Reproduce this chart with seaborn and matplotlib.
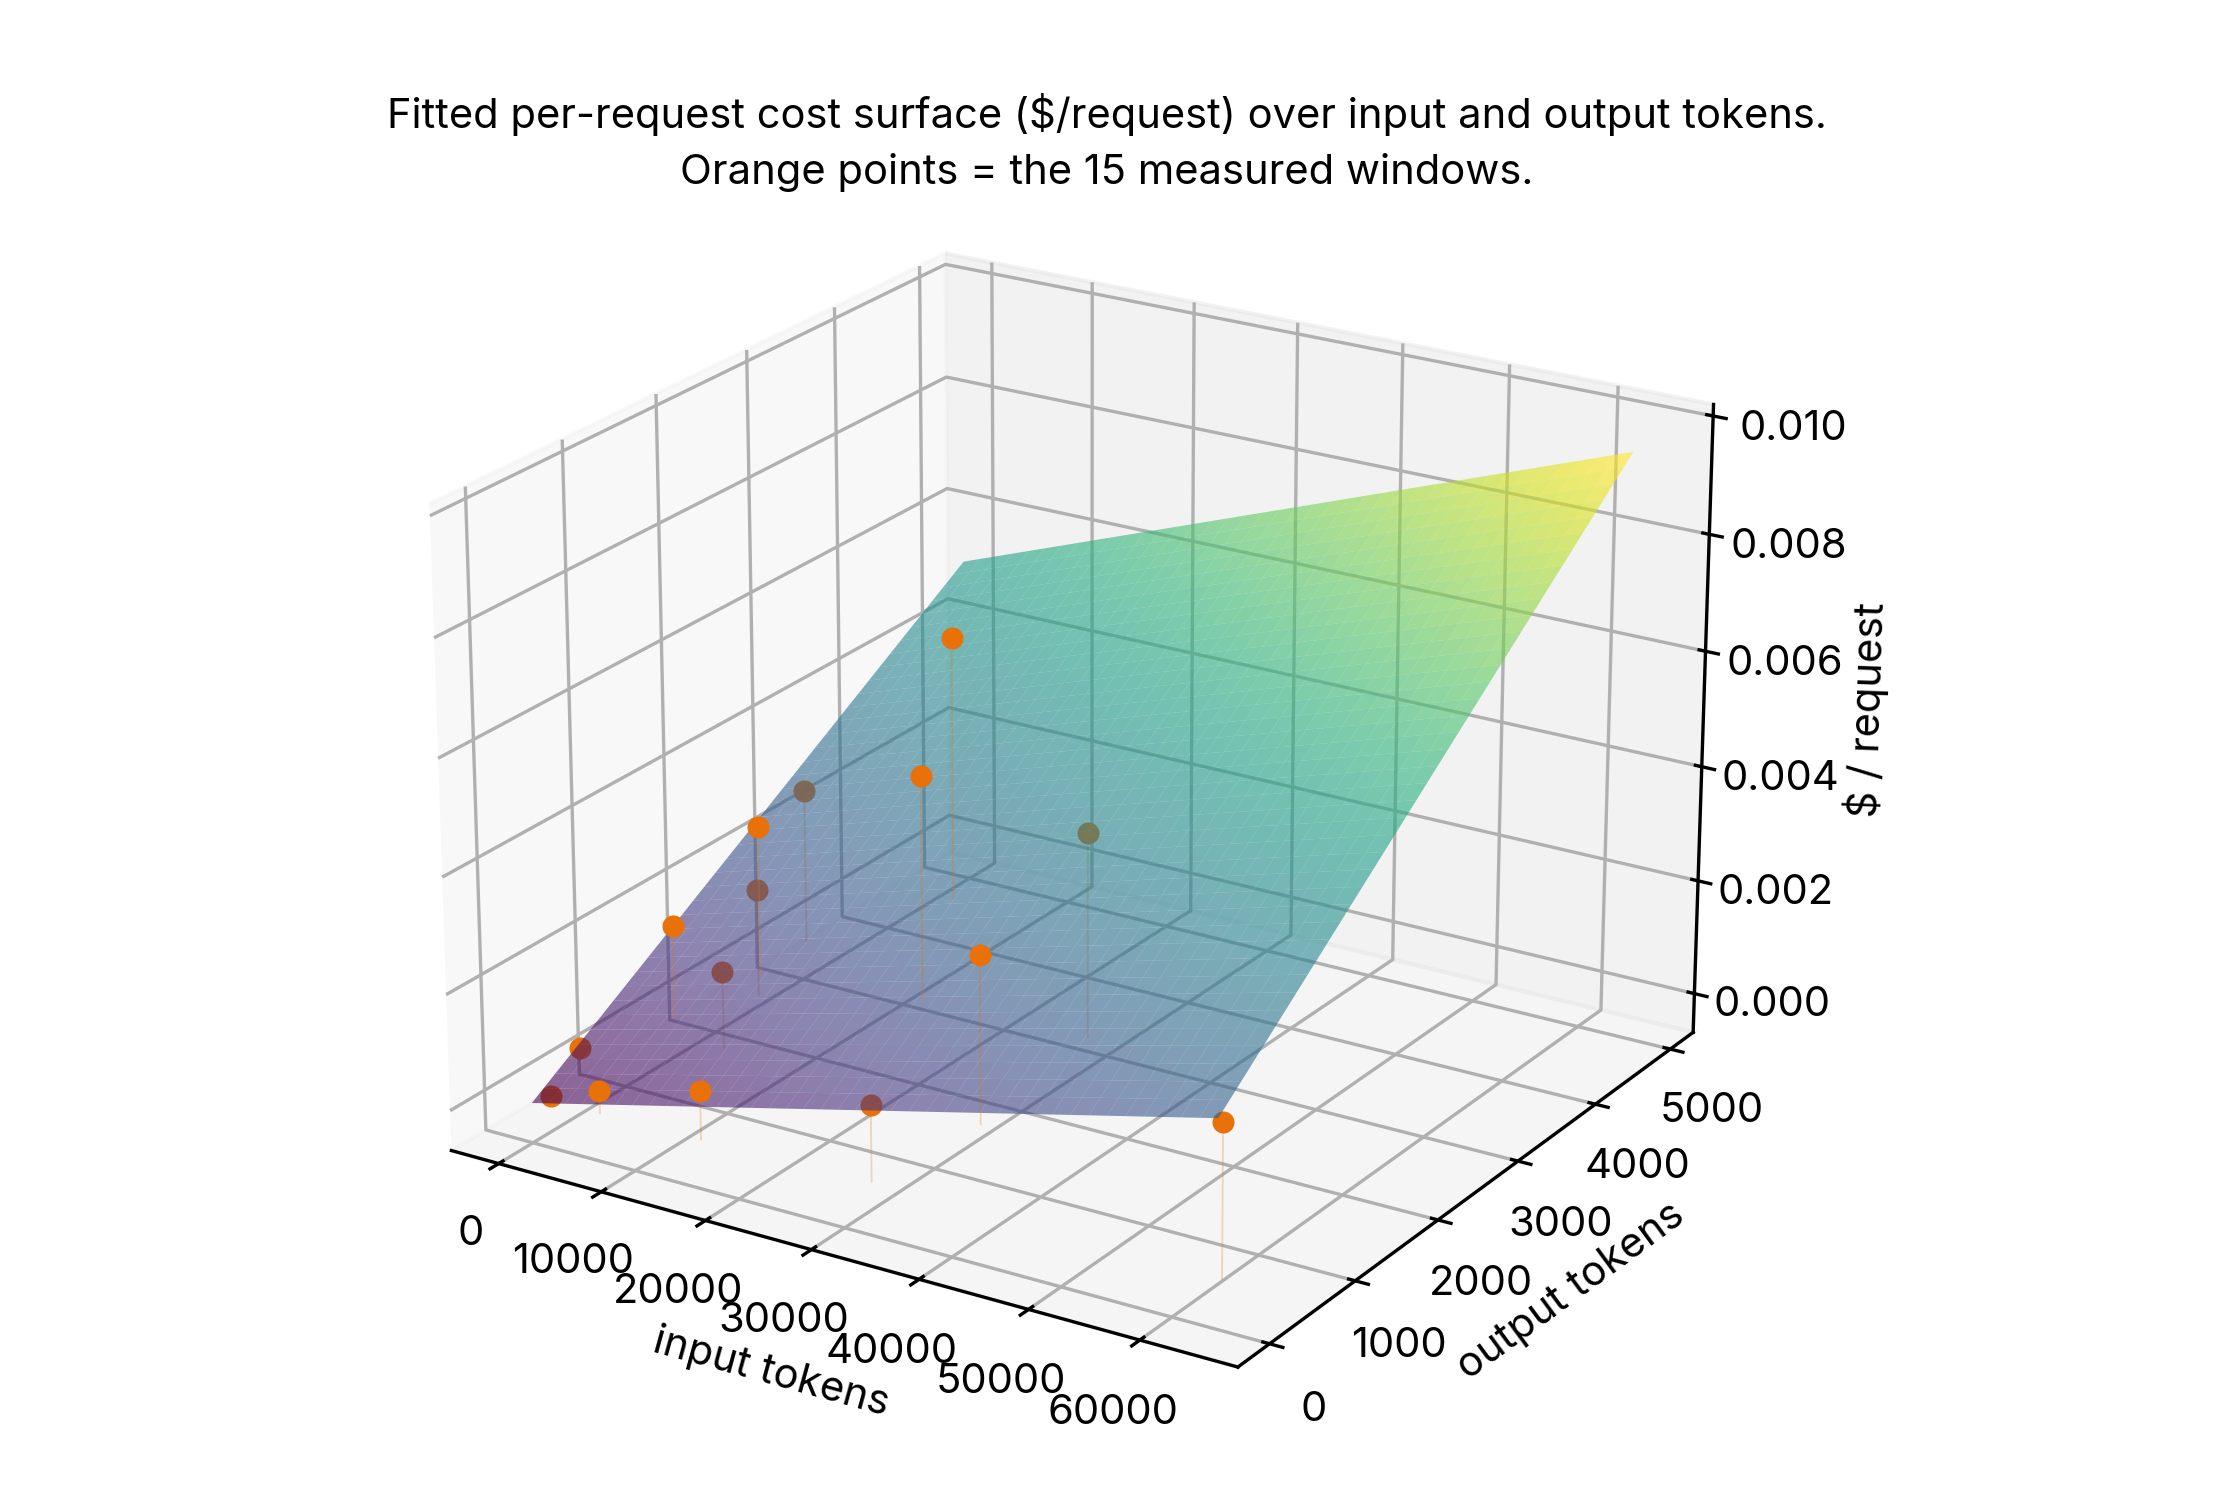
import numpy as np
import matplotlib
matplotlib.use("Agg")
import matplotlib.pyplot as plt
import seaborn as sns

# measured windows
input_tokens = [5700, 15050, 32650, 30800, 300, 1000, 3200, 100, 6850, 150, 5750, 15450, 31250, 1200, 63500]
output_tokens = [4120, 2640, 1207, 2680, 3010, 2400, 2130, 1540, 1325, 500, 100, 110, 155, 80, 120]
cost_per_request = [0.00468, 0.0039, 0.0029, 0.00355, 0.0027, 0.00262, 0.00185, 0.00163, 0.00133,
                    0.00048, 0.00038, 0.00083, 0.0013, 0.0001, 0.0026]

# fitted cost model, $/request
fit_intercept = 0.0
fit_per_input = 4.375e-8
fit_per_output = 1.04e-6
fit_interaction = 4.9e-12
grid_input_max = 64000
grid_output_max = 4950

plt.rcParams['font.family'] = ['Inter', 'DejaVu Sans']

point_color = '#e8710a'


def fitted_cost(x, y):
    return fit_intercept + fit_per_input * x + fit_per_output * y + fit_interaction * x * y


x = np.array(input_tokens, dtype=float)
y = np.array(output_tokens, dtype=float)
z = np.array(cost_per_request, dtype=float)

gx, gy = np.meshgrid(np.linspace(0, grid_input_max, 40), np.linspace(0, grid_output_max, 40))
gz = fitted_cost(gx, gy)

fig = plt.figure(figsize=(2228 / 300, 1492 / 300), dpi=300)
ax = fig.add_axes([0.158, -0.0108, 0.6389, 0.954], projection='3d', computed_zorder=False)
ax.view_init(elev=22, azim=-58)

cmap = sns.color_palette('viridis', as_cmap=True)
ax.plot_surface(gx, gy, gz, cmap=cmap, alpha=0.6, linewidth=0, antialiased=True, zorder=2)

# points above the fitted surface are drawn over it, the rest under it
above = z >= fitted_cost(x, y)
for xi, yi, zi, up in zip(x, y, z, above):
    ax.plot([xi, xi], [yi, yi], [0, zi], color=point_color, alpha=0.25, lw=0.45,
            zorder=3 if up else 1)
ax.scatter(x[~above], y[~above], z[~above], color=point_color, s=28, depthshade=False,
           linewidths=0, zorder=1.5)
ax.scatter(x[above], y[above], z[above], color=point_color, s=28, depthshade=False,
           linewidths=0, zorder=3.5)

ax.tick_params(axis='x', pad=1.5)
ax.tick_params(axis='y', pad=1.5)
ax.set_xlabel('input tokens', labelpad=0)
ax.set_ylabel('output tokens', labelpad=0)
ax.set_zlabel('$ / request', labelpad=3)
ax.set_title('Fitted per-request cost surface ($/request) over input and output tokens.\n'
             'Orange points = the 15 measured windows.', fontsize=10, x=0.5305, y=0.992,
             linespacing=1.55)

fig.savefig('out.png', dpi=300)
